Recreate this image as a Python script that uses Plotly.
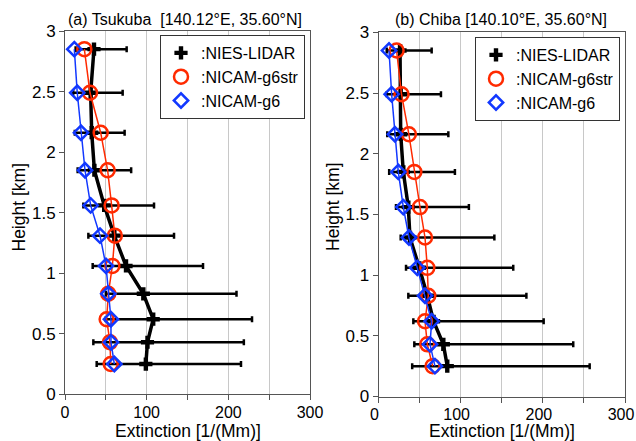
import numpy as np
import plotly.graph_objects as go

heights = [0.25, 0.43, 0.62, 0.83, 1.06, 1.31, 1.56, 1.85, 2.16, 2.49, 2.85]

# (a) Tsukuba
lidar_a = [99, 101, 108, 95.9, 74.7, 60.4, 48, 36, 32.7, 31.4, 35.5]
lidar_a_lo = [38.8, 34.7, 50, 50, 33.9, 28.6, 22.5, 15.5, 12, 10, 13]
lidar_a_hi = [215.5, 219, 229, 210, 169, 133.5, 109, 81, 73, 70.6, 75.5]
g6str_a = [56, 55, 51, 53, 58, 61, 57.1, 52.2, 43.7, 30.6, 23.7]
g6_a = [60.4, 56.3, 56.3, 53, 50.2, 42.9, 31.4, 24.5, 19.6, 15, 11.4]

# (b) Chiba
lidar_b = [83.7, 78.9, 67, 59.4, 49.7, 38.3, 36.3, 30.2, 27, 27, 26.2]
lidar_b_lo = [41, 43.6, 42.4, 36.3, 33.5, 27, 21.3, 13, 10.7, 10, 10]
lidar_b_hi = [257, 237, 201, 180, 164, 141, 110, 93, 85, 76, 64.7]
g6str_b = [65.9, 59.4, 56.6, 60.6, 59.4, 56.6, 50.5, 43.6, 37, 28, 22]
g6_b = [68.7, 62.7, 64.7, 56.6, 47.2, 37.1, 30.2, 24.1, 20, 16, 12.8]

x_ticks = [0, 50, 100, 150, 200, 250, 300]
x_ticktext = ["0", "", "100", "", "200", "", "300"]
y_ticks = [0, 0.5, 1, 1.5, 2, 2.5, 3]
y_ticktext = ["0", "0.5", "1", "1.5", "2", "2.5", "3"]

titles = ["(a) Tsukuba  [140.12°E, 35.60°N]", "(b) Chiba [140.10°E, 35.60°N]"]
x_title = "Extinction [1/(Mm)]"
y_title = "Height [km]"
names = [":NIES-LIDAR", ":NICAM-g6str", ":NICAM-g6"]

FONT = "Liberation Sans, Arial, sans-serif"
RED = "#ff2a00"
BLUE = "#1238ff"

fig = go.Figure()

panels = [
    (lidar_a, lidar_a_lo, lidar_a_hi, g6str_a, g6_a, "x", "y", "legend"),
    (lidar_b, lidar_b_lo, lidar_b_hi, g6str_b, g6_b, "x2", "y2", "legend2"),
]

for lid, lo, hi, rs, bs, xa, ya, lg in panels:
    lid_arr = np.array(lid)
    plus = np.array(hi) - lid_arr
    minus = lid_arr - np.array(lo)
    fig.add_trace(go.Scatter(
        x=lid, y=heights, xaxis=xa, yaxis=ya, mode="lines+markers",
        line=dict(color="black", width=3.5),
        marker=dict(symbol="cross", size=11, color="black"),
        error_x=dict(type="data", array=plus, arrayminus=minus, symmetric=False,
                     color="black", thickness=2.5, width=3),
        showlegend=False, hoverinfo="x+y"))
    fig.add_trace(go.Scatter(
        x=rs, y=heights, xaxis=xa, yaxis=ya, mode="lines+markers",
        line=dict(color=RED, width=1.5),
        marker=dict(symbol="circle-open", size=14, color=RED, line=dict(width=2.5, color=RED)),
        showlegend=False))
    fig.add_trace(go.Scatter(
        x=bs, y=heights, xaxis=xa, yaxis=ya, mode="lines+markers",
        line=dict(color=BLUE, width=1.5),
        marker=dict(symbol="diamond-open", size=11, color=BLUE, line=dict(width=2.5, color=BLUE)),
        showlegend=False))
    # legend entries (markers only)
    fig.add_trace(go.Scatter(x=[None], y=[None], xaxis=xa, yaxis=ya, mode="markers", name=names[0],
                             marker=dict(symbol="cross", size=11, color="black"), legend=lg))
    fig.add_trace(go.Scatter(x=[None], y=[None], xaxis=xa, yaxis=ya, mode="markers", name=names[1],
                             marker=dict(symbol="circle-open", size=14, color=RED,
                                         line=dict(width=2.5, color=RED)), legend=lg))
    fig.add_trace(go.Scatter(x=[None], y=[None], xaxis=xa, yaxis=ya, mode="markers", name=names[2],
                             marker=dict(symbol="diamond-open", size=11, color=BLUE,
                                         line=dict(width=2.5, color=BLUE)), legend=lg))

W, H = 636, 441
axcommon_x = dict(range=[0, 300], tickmode="array", tickvals=x_ticks, ticktext=x_ticktext,
                  showgrid=True, gridcolor="#c8c8c8", gridwidth=1, zeroline=False,
                  showline=True, linecolor="#555555", linewidth=1, mirror=True,
                  ticks="outside", ticklen=5, tickcolor="#555555", automargin=False,
                  ticklabeloverflow="allow", ticklabelstandoff=-2,
                  tickfont=dict(size=16, color="black", family=FONT))
axcommon_y = dict(range=[0, 3], tickmode="array", tickvals=y_ticks, ticktext=y_ticktext,
                  showgrid=False, zeroline=False,
                  showline=True, linecolor="#555555", linewidth=1, mirror=True,
                  ticks="outside", ticklen=5, tickcolor="#555555", automargin=False,
                  ticklabeloverflow="allow",
                  tickfont=dict(size=17, color="black", family=FONT))

title_font = dict(size=17.5, family=FONT, color="black")
annotations = [
    dict(text=titles[0], x=184.5 / W, y=1 - 19.5 / H, xref="paper", yref="paper",
         showarrow=False, xanchor="center", yanchor="middle",
         font=dict(size=16, family=FONT, color="black")),
    dict(text=titles[1], x=501 / W, y=1 - 19.5 / H, xref="paper", yref="paper",
         showarrow=False, xanchor="center", yanchor="middle",
         font=dict(size=16, family=FONT, color="black")),
    dict(text=x_title, x=187.5 / W, y=1 - 431 / H, xref="paper", yref="paper",
         showarrow=False, xanchor="center", yanchor="middle", font=title_font),
    dict(text=x_title, x=501.5 / W, y=1 - 431 / H, xref="paper", yref="paper",
         showarrow=False, xanchor="center", yanchor="middle", font=title_font),
    dict(text=y_title, x=18.5 / W, y=1 - 207 / H, xref="paper", yref="paper", textangle=-90,
         showarrow=False, xanchor="center", yanchor="middle", font=title_font),
    dict(text=y_title, x=333 / W, y=1 - 207 / H, xref="paper", yref="paper", textangle=-90,
         showarrow=False, xanchor="center", yanchor="middle", font=title_font),
]

fig.update_layout(
    width=W, height=H, margin=dict(l=0, r=0, t=0, b=0, autoexpand=False),
    paper_bgcolor="white", plot_bgcolor="white",
    font=dict(family=FONT, color="black"),
    xaxis=dict(domain=[65 / W, 310 / W], anchor="y", **axcommon_x),
    yaxis=dict(domain=[1 - 394.3 / H, 1 - 31 / H], anchor="x", **axcommon_y),
    xaxis2=dict(domain=[378.5 / W, 625 / W], anchor="y2", ticklabelshift=-4, **axcommon_x),
    yaxis2=dict(domain=[1 - 396.5 / H, 1 - 32.3 / H], anchor="x2", **axcommon_y),
    legend=dict(x=305 / W, y=1 - 35 / H, xanchor="right", yanchor="top",
                bgcolor="white", bordercolor="#333333", borderwidth=1,
                font=dict(size=16, family=FONT, color="black"), tracegroupgap=0),
    legend2=dict(x=620 / W, y=1 - 37 / H, xanchor="right", yanchor="top",
                 bgcolor="white", bordercolor="#333333", borderwidth=1,
                 font=dict(size=16, family=FONT, color="black"), tracegroupgap=0),
    annotations=annotations,
)

fig.write_html("out.html")
